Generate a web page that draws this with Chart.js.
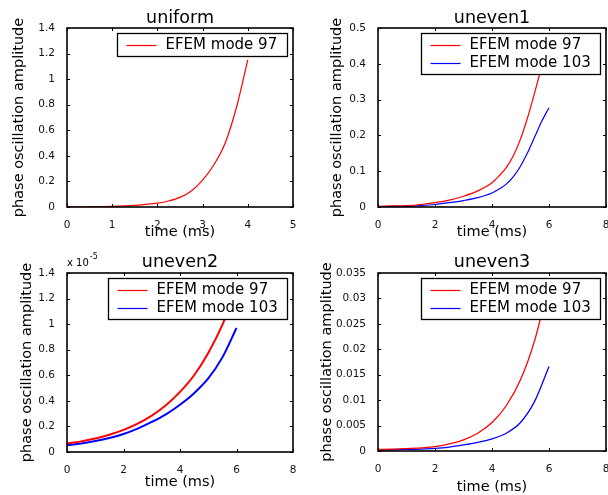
<!DOCTYPE html>
<html>
<head>
<meta charset="utf-8">
<script src="https://cdn.jsdelivr.net/npm/chart.js@4.4.1/dist/chart.umd.min.js"></script>
<style>
  html, body { margin: 0; padding: 0; width: 608px; height: 495px; overflow: hidden; background: #fff; }
  canvas { position: absolute; }
</style>
</head>
<body>
<canvas id="uniform" width="304" height="248" style="left:0;top:0"></canvas>
<canvas id="uneven1" width="320" height="248" style="left:304px;top:0"></canvas>
<canvas id="uneven2" width="304" height="260" style="left:0;top:248px"></canvas>
<canvas id="uneven3" width="320" height="260" style="left:304px;top:248px"></canvas>
<script>
// data
const seriesNames = ['EFEM mode 97', 'EFEM mode 103'];

const uniformTimes = [0, 0.5, 1, 1.5, 2, 2.25, 2.5, 2.75, 3, 3.25, 3.5, 3.75, 4];
const uniformMode97 = [0.001, 0.002, 0.005, 0.013, 0.03, 0.047, 0.075, 0.125, 0.21, 0.33, 0.5, 0.78, 1.15];

const uneven1Times = [0, 0.5, 1, 1.5, 2, 2.5, 3, 3.5, 4, 4.25, 4.5, 4.75, 5, 5.25, 5.5, 5.75, 6];
const uneven1Mode97 = [0.002, 0.003, 0.004, 0.007, 0.012, 0.019, 0.03, 0.045, 0.068, 0.087, 0.11, 0.143, 0.19, 0.25, 0.32, 0.395, 0.465];
const uneven1Mode103 = [0.001, 0.0015, 0.002, 0.004, 0.007, 0.012, 0.018, 0.026, 0.039, 0.05, 0.064, 0.085, 0.114, 0.152, 0.196, 0.24, 0.277];

// uneven2 values are in units of 1e-5
const uneven2Times = [0, 0.5, 1, 1.5, 2, 2.5, 3, 3.5, 4, 4.5, 5, 5.5, 6];
const uneven2Mode97 = [0.066, 0.083, 0.105, 0.135, 0.173, 0.222, 0.285, 0.366, 0.47, 0.6, 0.775, 0.995, 1.28];
const uneven2Mode103 = [0.052, 0.067, 0.086, 0.11, 0.141, 0.183, 0.235, 0.295, 0.37, 0.46, 0.575, 0.74, 0.97];

const uneven3Times = [0, 0.5, 1, 1.5, 2, 2.5, 3, 3.5, 4, 4.5, 5, 5.5, 6];
const uneven3Mode97 = [0.0003, 0.00035, 0.00045, 0.0006, 0.00085, 0.0014, 0.0022, 0.0035, 0.0056, 0.0089, 0.014, 0.0218, 0.033];
const uneven3Mode103 = [0.0002, 0.00025, 0.0003, 0.00038, 0.00052, 0.00078, 0.0012, 0.0017, 0.0024, 0.0035, 0.0056, 0.0098, 0.0166];

// tick labels
const xLabels5 = ['0', '1', '2', '3', '4', '5'];
const xLabels8 = ['0', '2', '4', '6', '8'];
const uniformYLabels = ['0', '0.2', '0.4', '0.6', '0.8', '1', '1.2', '1.4'];
const uneven1YLabels = ['0', '0.1', '0.2', '0.3', '0.4', '0.5'];
const uneven2YLabels = ['0', '0.2', '0.4', '0.6', '0.8', '1', '1.2', '1.4'];
const uneven3YLabels = ['0', '0.005', '0.01', '0.015', '0.02', '0.025', '0.03', '0.035'];

const FONT = '"DejaVu Sans", sans-serif';
const colors = ['#ff0000', '#0000ff'];

// box around the axes with inward ticks on all four sides
const framePlugin = {
  id: 'frame',
  afterDraw(chart) {
    const ctx = chart.ctx;
    const a = chart.chartArea;
    const L = Math.round(a.left), R = Math.round(a.right);
    const T = Math.round(a.top), B = Math.round(a.bottom);
    const len = 3;
    ctx.save();
    ctx.strokeStyle = '#000';
    ctx.lineWidth = 1.6;
    ctx.strokeRect(L, T, R - L, B - T);
    ctx.lineWidth = 1;
    ctx.beginPath();
    chart.scales.x.ticks.forEach(t => {
      const px = Math.round(chart.scales.x.getPixelForValue(t.value)) + 0.5;
      ctx.moveTo(px, B); ctx.lineTo(px, B - len);
      ctx.moveTo(px, T); ctx.lineTo(px, T + len);
    });
    chart.scales.y.ticks.forEach(t => {
      const py = Math.round(chart.scales.y.getPixelForValue(t.value)) + 0.5;
      ctx.moveTo(L, py); ctx.lineTo(L + len, py);
      ctx.moveTo(R, py); ctx.lineTo(R - len, py);
    });
    ctx.stroke();

    const ex = chart.options.plugins.frame.exponent;
    if (ex) {
      ctx.fillStyle = '#000';
      ctx.textBaseline = 'alphabetic';
      ctx.font = '10px ' + FONT;
      ctx.fillText('x 10', a.left, a.top - 6.7);
      const w = ctx.measureText('x 10').width;
      ctx.font = '8px ' + FONT;
      ctx.fillText(ex, a.left + w + 1, a.top - 14.3);
    }
    ctx.restore();
  }
};

// boxed legend in the upper right corner of the axes
const boxLegendPlugin = {
  id: 'boxLegend',
  afterDraw(chart) {
    const ctx = chart.ctx;
    const a = chart.chartArea;
    const sets = chart.data.datasets;
    ctx.save();
    ctx.font = '15px ' + FONT;
    let textW = 0;
    sets.forEach(d => { textW = Math.max(textW, ctx.measureText(d.label).width); });
    const w = Math.round(9 + 30 + 9 + textW + 10);
    const h = 5 + 18 * sets.length;
    const x = Math.round(a.right - 6 - w) + 0.5;
    const y = Math.round(a.top + 5) + 0.5;
    ctx.fillStyle = '#fff';
    ctx.fillRect(x, y, w, h);
    ctx.strokeStyle = '#000';
    ctx.lineWidth = 1.3;
    ctx.strokeRect(x, y, w, h);
    sets.forEach((d, i) => {
      const cy = y + 11.5 + i * 18;
      ctx.strokeStyle = d.borderColor;
      ctx.lineWidth = 1.2;
      ctx.beginPath();
      ctx.moveTo(x + 9, Math.round(cy) + 0.5);
      ctx.lineTo(x + 39, Math.round(cy) + 0.5);
      ctx.stroke();
      ctx.fillStyle = '#000';
      ctx.textBaseline = 'middle';
      ctx.fillText(d.label, x + 48, cy);
    });
    ctx.restore();
  }
};

function makePanel(id, p) {
  const xVals = p.xLabels.map(Number);
  const yVals = p.yLabels.map(Number);
  const datasets = p.series.map((vals, i) => ({
    label: seriesNames[i],
    data: p.times.map((t, j) => ({ x: t, y: vals[j] })),
    borderColor: colors[i],
    borderWidth: p.lineWidth,
    pointRadius: 0,
    fill: false,
    cubicInterpolationMode: 'monotone'
  }));
  const tickFont = { family: FONT, size: 10.5 };
  const titleFont = { family: FONT, size: 14.5, lineHeight: 1.2 };

  return new Chart(document.getElementById(id), {
    type: 'line',
    data: { datasets: datasets },
    options: {
      responsive: false,
      animation: false,
      devicePixelRatio: 1,
      layout: { padding: { left: 0, right: p.padRight, top: 0, bottom: 0 } },
      plugins: {
        legend: { display: false },
        tooltip: { enabled: false },
        frame: { exponent: p.exponent },
        title: {
          display: true,
          text: p.title,
          fullSize: false,
          color: '#000',
          font: { family: FONT, size: 17.5, weight: 'normal', lineHeight: 1 },
          padding: { top: p.titleTop, bottom: p.titleBottom }
        }
      },
      scales: {
        x: {
          type: 'linear',
          min: xVals[0],
          max: xVals[xVals.length - 1],
          afterBuildTicks: s => { s.ticks = xVals.map(v => ({ value: v })); },
          afterFit: s => { s.height = p.xHeight; },
          grid: { display: false },
          border: { display: false },
          ticks: { autoSkip: false, maxRotation: 0, padding: 3.5, color: '#111', font: tickFont,
                   callback: (v, i) => p.xLabels[i] },
          title: { display: true, text: 'time (ms)', color: '#000', font: titleFont,
                   padding: { top: 0, bottom: p.xTitleBottom } }
        },
        y: {
          type: 'linear',
          min: yVals[0],
          max: yVals[yVals.length - 1],
          afterBuildTicks: s => { s.ticks = yVals.map(v => ({ value: v })); },
          afterFit: s => { s.width = p.yWidth; },
          grid: { display: false },
          border: { display: false },
          ticks: { autoSkip: false, padding: 4, color: '#111', font: tickFont,
                   callback: (v, i) => p.yLabels[i] },
          title: { display: true, text: 'phase oscillation amplitude', color: '#000', font: titleFont,
                   padding: { top: p.yTitleTop, bottom: 0 } }
        }
      }
    },
    plugins: [framePlugin, boxLegendPlugin]
  });
}

makePanel('uniform', {
  title: 'uniform', times: uniformTimes, series: [uniformMode97],
  xLabels: xLabels5, yLabels: uniformYLabels, lineWidth: 1.2,
  yWidth: 67, padRight: 11, xHeight: 41, titleTop: 10.2, titleBottom: 0.3,
  xTitleBottom: 7.3, yTitleTop: 11
});

makePanel('uneven1', {
  title: 'uneven1', times: uneven1Times, series: [uneven1Mode97, uneven1Mode103],
  xLabels: xLabels8, yLabels: uneven1YLabels, lineWidth: 1.2,
  yWidth: 74, padRight: 18, xHeight: 41, titleTop: 10.2, titleBottom: 0.3,
  xTitleBottom: 7.3, yTitleTop: 25
});

makePanel('uneven2', {
  title: 'uneven2', times: uneven2Times, series: [uneven2Mode97, uneven2Mode103],
  xLabels: xLabels8, yLabels: uneven2YLabels, lineWidth: 2, exponent: '-5',
  yWidth: 67, padRight: 11, xHeight: 56, titleTop: 5.9, titleBottom: 1.6,
  xTitleBottom: 17.3, yTitleTop: 18.4
});

makePanel('uneven3', {
  title: 'uneven3', times: uneven3Times, series: [uneven3Mode97, uneven3Mode103],
  xLabels: xLabels8, yLabels: uneven3YLabels, lineWidth: 1.3,
  yWidth: 74, padRight: 18, xHeight: 57, titleTop: 5.9, titleBottom: 1.6,
  xTitleBottom: 11.6, yTitleTop: 15
});
</script>
</body>
</html>
